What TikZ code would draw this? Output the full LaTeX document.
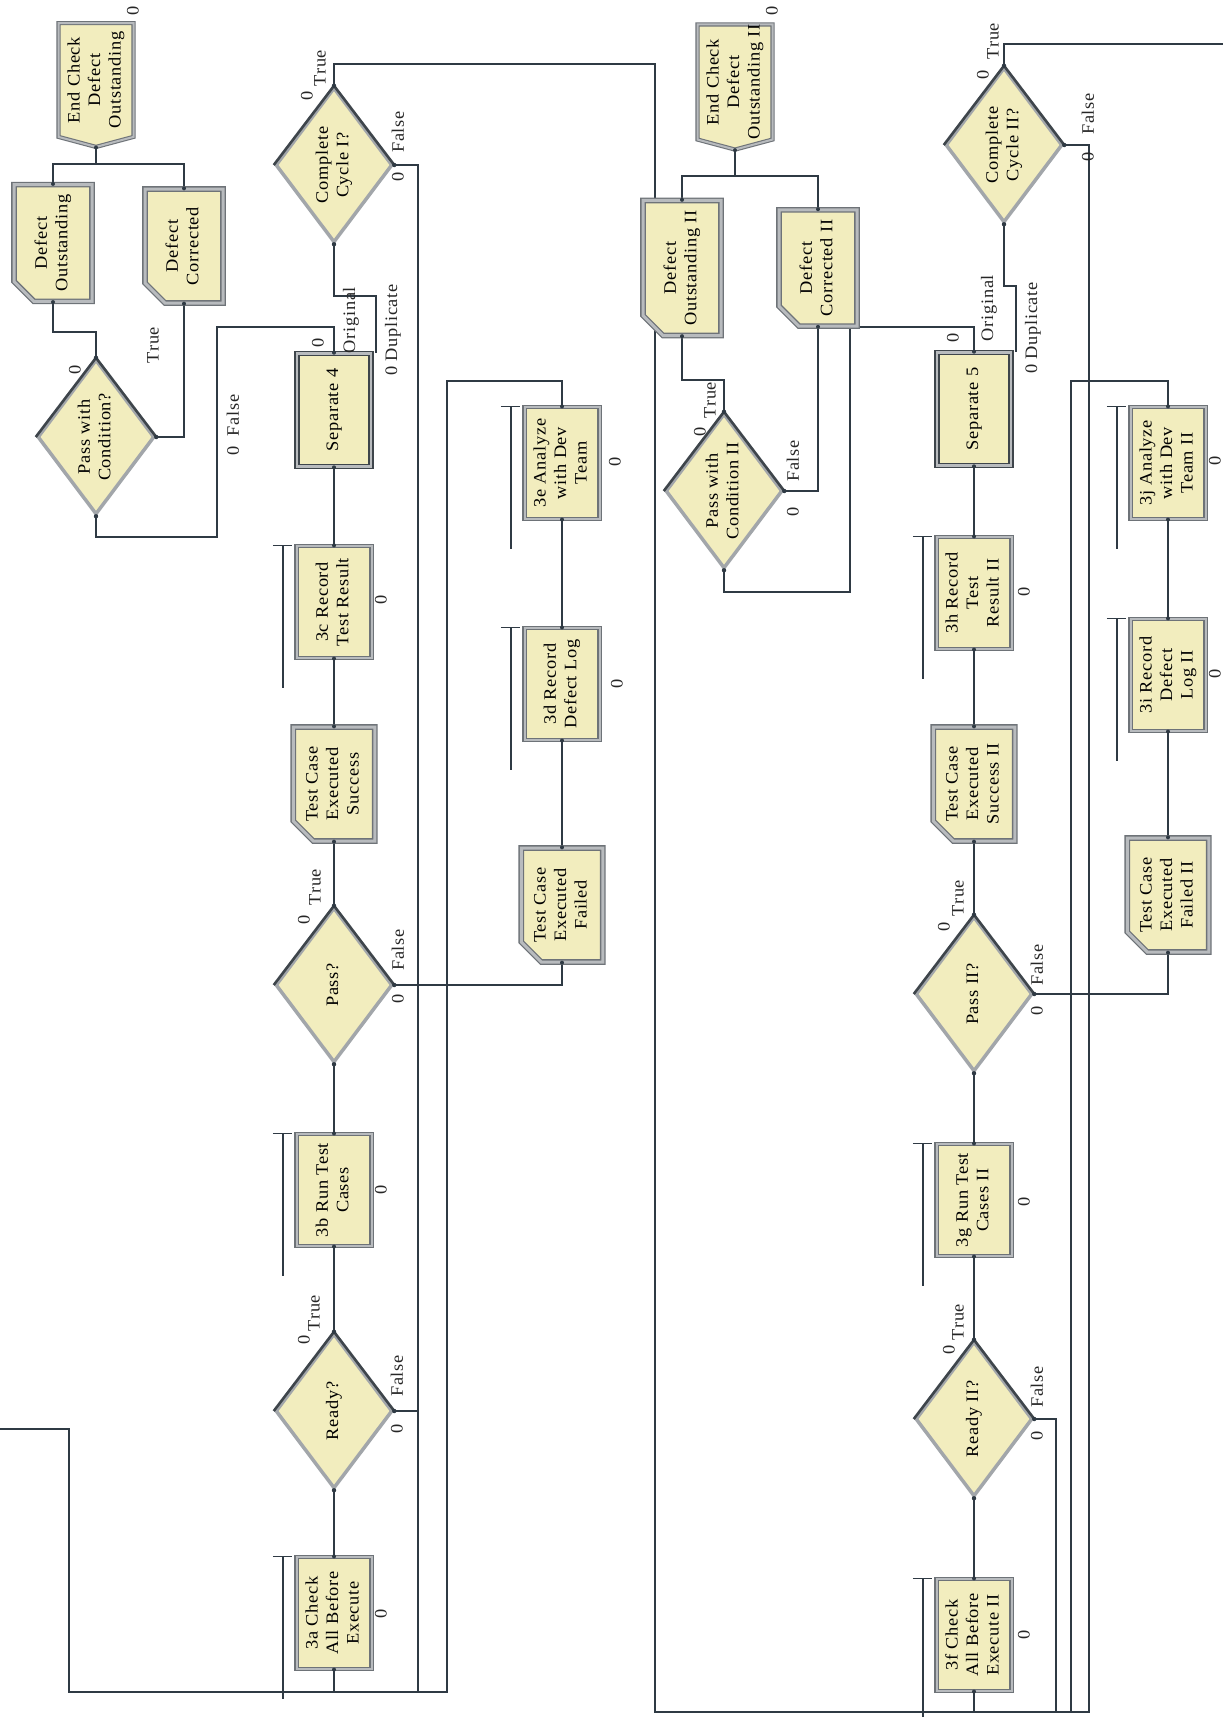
\documentclass[tikz,border=0pt]{standalone}
\usepackage{fontspec}
\setmainfont{Liberation Serif}[LetterSpace=4,FakeStretch=1.05]
\usepackage{graphicx}
\usetikzlibrary{shapes.geometric,shapes.misc,shapes.symbols}
\definecolor{boxfill}{HTML}{F2EDBE}
\definecolor{bout}{HTML}{6E7378}
\definecolor{bin}{HTML}{B8BBBE}
\definecolor{ddark}{HTML}{3E454B}
\definecolor{dlight}{HTML}{A2A6AA}
\definecolor{wirec}{HTML}{2F3A44}
\newcommand\dfont{\fontsize{17.5pt}{20.5pt}\selectfont}
\newcommand\rt[1]{\rotatebox{90}{\begin{tabular}{@{}c@{}}#1\end{tabular}}}
\newcommand\lab[3]{\node[lbl] (#1) at (#2) {\rotatebox{90}{#3}};}
\pgfdeclarelayer{bg}
\pgfsetlayers{bg,main}
\tikzset{
 procbox/.style={rectangle, minimum width=75pt, minimum height=112pt, inner sep=0pt, fill=boxfill, draw=bout, line width=1.1pt, double=bin, double distance=2pt, font=\dfont},
 assignbox/.style={chamfered rectangle, chamfered rectangle corners=south west, chamfered rectangle xsep=10pt, chamfered rectangle ysep=10pt, minimum width=78pt, minimum height=114pt, inner sep=0pt, fill=boxfill, draw=bout, line width=1.3pt, double=bin, double distance=3pt, font=\dfont},
 sepbox/.style={rectangle, minimum width=74pt, minimum height=113pt, inner sep=0pt, fill=boxfill, draw=ddark, line width=1.6pt, double=bin, double distance=2.5pt, font=\dfont},
 dispose/.style={signal, signal to=south, signal from=nowhere, signal pointer angle=150, minimum width=75pt, minimum height=122pt, inner sep=0pt, fill=boxfill, draw=bout, line width=1.1pt, double=bin, double distance=2pt, font=\dfont},
 decide/.style={diamond, minimum width=117pt, minimum height=155pt, inner sep=0pt, fill=boxfill, draw=dlight, line width=3.5pt},
 dedge/.style={draw=ddark, line width=2.6pt, line join=round},
 dtext/.style={inner sep=0pt, font=\dfont},
 lbl/.style={inner sep=0pt, font=\dfont, text=black!85},
 wire/.style={draw=wirec, line width=1.7pt},
 resline/.style={draw=wirec, line width=1.5pt},
}
\newcommand\mkdecide[3]{\node[decide] (#1) at (#2) {};
 \draw[dedge] (#1.west) -- (#1.north) -- (#1.east);
 \node[dtext] (#1-t) at (#1) {\rt{#3}};}
\newcommand\resbar[1]{\draw[resline] ([xshift=-13pt]#1.north west) -- ++(0,143);
 \draw[resline] ([xshift=-23pt]#1.north west) -- ([xshift=-4pt]#1.north west);}
\begin{document}
\begin{tikzpicture}[x=1pt,y=-1pt]
\useasboundingbox (0,0) rectangle (1223,1717);
% ---------- group I ----------
\node[dispose] (endchk) at (96,80) {\rt{End Check\\Defect\\Outstanding}};
\node[assignbox] (dout) at (53,243) {\rt{Defect\\Outstanding}};
\node[assignbox] (dcor) at (184,246) {\rt{Defect\\Corrected}};
\mkdecide{pwc}{96,437}{Pass with\\Condition?}
\mkdecide{cc1}{334,165}{Complete\\Cycle I?}
\node[sepbox] (sep4) at (334,410) {\rt{Separate 4}};
\node[procbox] (p3c) at (334,602) {\rt{3c Record\\Test Result}};
\node[assignbox] (tcs) at (334,784) {\rt{Test Case\\Executed\\Success}};
\mkdecide{pass}{334,985}{Pass?}
\node[procbox] (p3b) at (334,1190) {\rt{3b Run Test\\Cases}};
\mkdecide{ready}{334,1411}{Ready?}
\node[procbox] (p3a) at (334,1613) {\rt{3a Check\\All Before\\Execute}};
\node[procbox] (p3e) at (562,463) {\rt{3e Analyze\\with Dev\\Team}};
\node[procbox] (p3d) at (562,684) {\rt{3d Record\\Defect Log}};
\node[assignbox] (tcf) at (562,905) {\rt{Test Case\\Executed\\Failed}};
% ---------- group II ----------
\node[dispose] (endchk2) at (735,82) {\rt{End Check\\Defect\\Outstanding II}};
\node[assignbox] (dout2) at (682,268) {\rt{Defect\\Outstanding II}};
\node[assignbox] (dcor2) at (818,268) {\rt{Defect\\Corrected II}};
\mkdecide{pwc2}{724,491}{Pass with\\Condition II}
\mkdecide{cc2}{1004,145}{Complete\\Cycle II?}
\node[sepbox] (sep5) at (974,409) {\rt{Separate 5}};
\node[procbox] (p3h) at (974,593) {\rt{3h Record\\Test\\Result II}};
\node[assignbox] (tcs2) at (974,784) {\rt{Test Case\\Executed\\Success II}};
\mkdecide{pass2}{974,994}{Pass II?}
\node[procbox] (p3g) at (974,1200) {\rt{3g Run Test\\Cases II}};
\mkdecide{ready2}{974,1419}{Ready II?}
\node[procbox] (p3f) at (974,1635) {\rt{3f Check\\All Before\\Execute II}};
\node[procbox] (p3j) at (1168,463) {\rt{3j Analyze\\with Dev\\Team II}};
\node[procbox] (p3i) at (1168,675) {\rt{3i Record\\Defect\\Log II}};
\node[assignbox] (tcf2) at (1168,895) {\rt{Test Case\\Executed\\Failed II}};
% ---------- resource bars ----------
\resbar{p3a}\resbar{p3b}\resbar{p3c}\resbar{p3d}\resbar{p3e}
\resbar{p3f}\resbar{p3g}\resbar{p3h}\resbar{p3i}\resbar{p3j}
% ---------- connection dots ----------
\foreach \n in {pwc,cc1,pass,ready,pwc2,cc2,pass2,ready2}
  {\foreach \a in {north,east,south} {\fill[wirec] (\n.\a) circle (2.2pt);}}
\foreach \n in {p3a,p3b,p3c,p3d,p3e,p3f,p3g,p3h,p3i,p3j,tcs,tcf,tcs2,tcf2,dout,dcor,dout2,dcor2,sep4,sep5}
  {\foreach \a in {north,south} {\fill[wirec] (\n.\a) circle (2pt);}}
\fill[wirec] (endchk.south) circle (2pt);
\fill[wirec] (endchk2.south) circle (2pt);
% ---------- labels ----------
\lab{l1}{133,11}{0}
\lab{l2}{75,370}{0}
\lab{l3}{153,345}{True}
\lab{l4}{233,425}{0\hspace{10pt}False}
\lab{l5}{318,343}{0}
\lab{l6}{351,320}{Original}
\lab{l7}{393,330}{0 Duplicate}
\lab{l8}{307,96}{0}
\lab{l9}{320,68}{True}
\lab{l10}{398,132}{False}
\lab{l11}{398,177}{0}
\lab{l12}{381,600}{0}
\lab{l13}{304,920}{0}
\lab{l14}{315,887}{True}
\lab{l15}{398,950}{False}
\lab{l16}{398,999}{0}
\lab{l17}{381,1190}{0}
\lab{l18}{304,1340}{0}
\lab{l19}{314,1313}{True}
\lab{l20}{397,1376}{False}
\lab{l21}{397,1429}{0}
\lab{l22}{381,1614}{0}
\lab{l23}{617,684}{0}
\lab{l24}{615,462}{0}
\lab{m1}{772,11}{0}
\lab{m2}{700,432}{0}
\lab{m3}{710,400}{True}
\lab{m4}{793,461}{False}
\lab{m5}{793,512}{0}
\lab{m6}{953,338}{0}
\lab{m7}{989,308}{Original}
\lab{m8}{1033,328}{0 Duplicate}
\lab{m9}{983,75}{0}
\lab{m10}{993,41}{True}
\lab{m11}{1088,114}{False}
\lab{m12}{1088,157}{0}
\lab{m13}{1024,592}{0}
\lab{m14}{944,927}{0}
\lab{m15}{958,898}{True}
\lab{m16}{1037,965}{False}
\lab{m17}{1037,1011}{0}
\lab{m18}{1024,1202}{0}
\lab{m19}{949,1350}{0}
\lab{m20}{958,1322}{True}
\lab{m21}{1037,1387}{False}
\lab{m22}{1037,1436}{0}
\lab{m23}{1024,1635}{0}
\lab{m24}{1215,674}{0}
\lab{m25}{1215,461}{0}
% ---------- connectors ----------
\begin{pgfonlayer}{bg}
\fill[white] (0,0) rectangle (1223,1717);
\coordinate (ext) at (0,1429);
\coordinate (ext2) at (1223,44);
% group I
\draw[wire] (p3a.north) -- (ready.south);
\draw[wire] (ready.north) -- (p3b.south);
\draw[wire] (p3b.north) -- (pass.south);
\draw[wire] (pass.north) -- (tcs.south);
\draw[wire] (tcs.north) -- (p3c.south);
\draw[wire] (p3c.north) -- (sep4.south);
\draw[wire] (sep4.north) -- (334,327) -| (217,537) -| (pwc.south);
\draw[wire] ([xshift=4pt]sep4.north east) |- (334,296) -- (cc1.south);
\draw[wire] (cc1.north) |- (655,64) -- (655,1712) -| (p3f.south);
\draw[wire] (cc1.east) -| (418,1692) -| (p3a.south);
\draw[wire] (ready.east) -- (418,1411);
\draw[wire] (pass.east) -| (tcf.south);
\draw[wire] (tcf.north) -- (p3d.south);
\draw[wire] (p3d.north) -- (p3e.south);
\draw[wire] (p3e.north) |- (447,381) -- (447,1692) -- (418,1692);
\draw[wire] (ext) -| (69,1692) -- (334,1692);
\draw[wire] (pwc.north) -- (96,332) -| (dout.south);
\draw[wire] (pwc.east) -| (dcor.south);
\draw[wire] (dout.north) -- (53,164) -- (184,164) -- (dcor.north);
\draw[wire] (endchk.south) -- (96,164);
% group II
\draw[wire] (p3f.north) -- (ready2.south);
\draw[wire] (ready2.north) -- (p3g.south);
\draw[wire] (p3g.north) -- (pass2.south);
\draw[wire] (pass2.north) -- (tcs2.south);
\draw[wire] (tcs2.north) -- (p3h.south);
\draw[wire] (p3h.north) -- (sep5.south);
\draw[wire] (sep5.north) -- (974,327) -| (850,592) -| (pwc2.south);
\draw[wire] ([xshift=4pt]sep5.north east) |- (1004,286) -- (cc2.south);
\draw[wire] (cc2.north) |- (ext2);
\draw[wire] (cc2.east) -| (1089,1712) -- (655,1712);
\draw[wire] (ready2.east) -| (1056,1712);
\draw[wire] (pass2.east) -| (tcf2.south);
\draw[wire] (tcf2.north) -- (p3i.south);
\draw[wire] (p3i.north) -- (p3j.south);
\draw[wire] (p3j.north) |- (1071,381) -- (1071,1712);
\draw[wire] (pwc2.north) -- (724,380) -| (dout2.south);
\draw[wire] (pwc2.east) -| (dcor2.south);
\draw[wire] (dout2.north) -- (682,176) -- (818,176) -- (dcor2.north);
\draw[wire] (endchk2.south) -- (735,176);
\end{pgfonlayer}
\end{tikzpicture}
\end{document}
